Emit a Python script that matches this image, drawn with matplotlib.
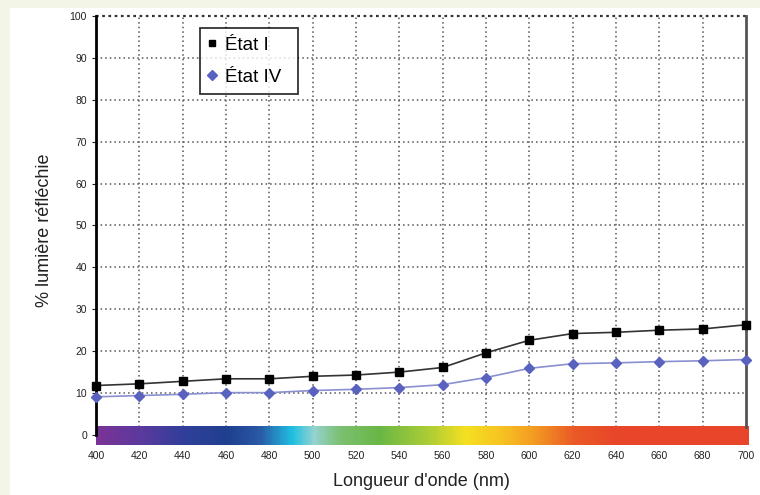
import numpy as np
import matplotlib
matplotlib.use("Agg")
import matplotlib.pyplot as plt
from matplotlib.colors import LinearSegmentedColormap
from matplotlib.patches import Rectangle

plt.rcParams['font.family'] = ['Liberation Sans', 'DejaVu Sans']

wavelengths = [400, 420, 440, 460, 480, 500, 520, 540, 560, 580, 600, 620, 640, 660, 680, 700]
etat_I = [11.8, 12.2, 12.8, 13.4, 13.4, 14.0, 14.3, 15.0, 16.1, 19.6, 22.6, 24.2, 24.5, 25.0, 25.3, 26.3]
etat_IV = [9.1, 9.4, 9.7, 10.1, 10.1, 10.6, 10.9, 11.3, 12.0, 13.7, 15.9, 17.0, 17.2, 17.5, 17.7, 18.0]
series_labels = ["État I", "État IV"]
x_ticks = list(range(400, 701, 20))
y_ticks = list(range(0, 101, 10))

spectrum_nm = [400, 420, 440, 460, 475, 490, 500, 512, 530, 555, 570, 585, 600, 620, 640, 700]
spectrum_colors = ["#7a3496", "#5b3a9e", "#303f9a", "#1f3f8f", "#2a5aa6", "#20c0e2", "#95d3d0",
                   "#7dc072", "#69b746", "#b4cf33", "#f5e021", "#f7c622", "#f4a022", "#ea5a26",
                   "#e8452a", "#e8452a"]

fig = plt.figure(figsize=(7.6, 4.95), dpi=100)
fig.patch.set_facecolor("white")
fig.add_artist(Rectangle((0, 0), 1, 1, transform=fig.transFigure, facecolor="#f3f6e7", edgecolor="none", zorder=-10))
fig.add_artist(Rectangle((10/760, 0), 1, 1 - 8/495, transform=fig.transFigure, facecolor="white", edgecolor="none", zorder=-9))

ax = fig.add_axes([96/760, 1 - 445/495, 650/760, 429/495])
ax.set_facecolor("white")
ax.set_xlim(400, 700)
ax.set_ylim(-2.4, 100)

pos = [(w - 400) / 300 for w in spectrum_nm]
cmap = LinearSegmentedColormap.from_list("spec", list(zip(pos, spectrum_colors)))
grad = np.linspace(0, 1, 600).reshape(1, -1)
ax.imshow(grad, cmap=cmap, aspect="auto", extent=(400, 701, -2.4, 1.9), zorder=1, clip_on=False)

grid_style = dict(color="#555555", linestyle=(0, (1.0, 2.0)), linewidth=1.1, zorder=0.5)
for xv in x_ticks[1:-1]:
    ax.plot([xv, xv], [1.9, 100], **grid_style)
for yv in y_ticks[1:-1]:
    ax.plot([400, 700], [yv, yv], **grid_style)
ax.plot([400, 700], [100, 100], color="#333333", linestyle=(0, (1.2, 1.6)), linewidth=1.6, zorder=0.5, clip_on=False)

ax.plot(wavelengths, etat_I, color="#333333", linewidth=1.2, marker="s", markersize=6,
        markerfacecolor="black", markeredgecolor="black", label=series_labels[0], zorder=3, clip_on=False)
ax.plot(wavelengths, etat_IV, color="#8a8fd0", linewidth=1.2, marker="D", markersize=5,
        markerfacecolor="#5a62c0", markeredgecolor="#5a62c0", label=series_labels[1], zorder=3, clip_on=False)

for s in ["top", "bottom"]:
    ax.spines[s].set_visible(False)
ax.spines["left"].set_color("black")
ax.spines["left"].set_linewidth(2)
ax.spines["left"].set_bounds(0, 100)
ax.spines["right"].set_color("#555555")
ax.spines["right"].set_linewidth(2)
ax.spines["right"].set_bounds(1.9, 100)

ax.set_xticks(x_ticks)
ax.set_yticks(y_ticks)
ax.tick_params(axis="both", labelsize=7.5, colors="#222222", length=3, width=0.8)
ax.tick_params(axis="x", length=0, pad=4)

ax.set_xlabel("Longueur d'onde (nm)", fontsize=13, color="#222222", labelpad=9)
ax.set_ylabel("% lumière réfléchie", fontsize=13, color="#222222", labelpad=12)

leg = ax.legend(loc="upper left", bbox_to_anchor=(0.16, 0.809, 0.151, 0.163), mode="expand",
                fontsize=13.5, frameon=True, fancybox=False, edgecolor="black",
                handlelength=0.4, handletextpad=0.5, borderpad=0.45, labelspacing=0.8,
                borderaxespad=0)
for h in leg.legend_handles:
    h.set_linestyle("none")
    h.set_markersize(5)
leg.get_frame().set_linewidth(1.3)

fig.savefig("out.png", dpi=100, facecolor=fig.get_facecolor())
